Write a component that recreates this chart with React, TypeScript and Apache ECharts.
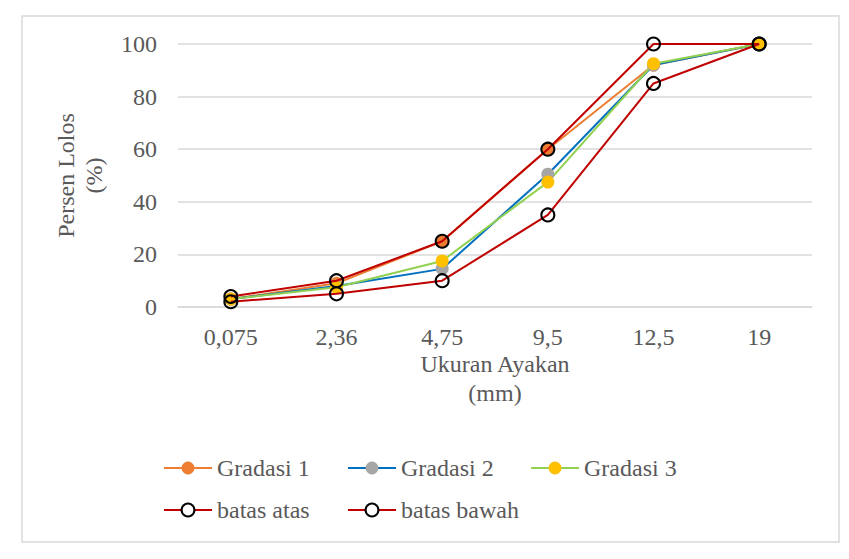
import React, { useEffect, useRef } from "react";
import * as echarts from "echarts";

const categories = ["0,075", "2,36", "4,75", "9,5", "12,5", "19"];
const gradasi1 = [3, 9, 25, 60, 92, 100];
const gradasi2 = [3, 8, 14.5, 50.5, 92, 100];
const gradasi3 = [3, 7.5, 17.5, 47.5, 92.5, 100];
const batasAtas = [4, 10, 25, 60, 100, 100];
const batasBawah = [2, 5, 10, 35, 85, 100];
const yTicks = { min: 0, max: 100, interval: 20 };

const FONT = "'Liberation Serif', 'Times New Roman', serif";
const TEXT = "#595959";

export default function App() {
  const ref = useRef<HTMLDivElement>(null);
  useEffect(() => {
    if (!ref.current) return;
    const chart = echarts.init(ref.current, undefined, { renderer: "svg" });
    const filled = (name: string, data: number[], line: string, marker: string) => ({
      name,
      type: "line",
      data,
      symbol: "circle",
      symbolSize: 13,
      lineStyle: { color: line, width: 2 },
      itemStyle: { color: marker, borderColor: marker, borderWidth: 0 },
      emphasis: { disabled: true },
      z: 2,
    });
    const hollow = (name: string, data: number[]) => ({
      name,
      type: "line",
      data,
      symbol: "circle",
      symbolSize: 13,
      lineStyle: { color: "#C00000", width: 2 },
      itemStyle: { color: "rgba(0,0,0,0)", borderColor: "#000000", borderWidth: 2 },
      emphasis: { disabled: true },
      z: 3,
    });
    const legendBase = {
      itemWidth: 48,
      itemHeight: 16,
      textStyle: { fontFamily: FONT, fontSize: 24, color: TEXT, lineHeight: 28 },
      padding: 0,
      selectedMode: false,
    };
    chart.setOption({
      animation: false,
      backgroundColor: "#ffffff",
      textStyle: { fontFamily: FONT },
      grid: { left: 178, right: 37, top: 44, bottom: 252, containLabel: false },
      xAxis: {
        type: "category",
        data: categories,
        boundaryGap: true,
        axisLine: { show: true, lineStyle: { color: "#d9d9d9", width: 1.5 } },
        axisTick: { show: false },
        axisLabel: { fontFamily: FONT, fontSize: 24, color: TEXT, margin: 18, lineHeight: 24 },
        name: "Ukuran Ayakan\n(mm)",
        nameLocation: "middle",
        nameGap: 39,
        nameTextStyle: { fontFamily: FONT, fontSize: 24, color: TEXT, lineHeight: 29 },
      },
      yAxis: {
        type: "value",
        min: yTicks.min,
        max: yTicks.max,
        interval: yTicks.interval,
        axisLine: { show: false },
        axisTick: { show: false },
        splitLine: { lineStyle: { color: "#d9d9d9", width: 1.5 } },
        axisLabel: { fontFamily: FONT, fontSize: 24, color: TEXT, margin: 21 },
        name: "Persen Lolos\n(%)",
        nameLocation: "middle",
        nameGap: 70,
        nameTextStyle: { fontFamily: FONT, fontSize: 24, color: TEXT, lineHeight: 28 },
      },
      legend: [
        { ...legendBase, left: 163, top: 454, data: ["Gradasi 1"] },
        { ...legendBase, left: 347, top: 454, data: ["Gradasi 2"] },
        { ...legendBase, left: 530, top: 454, data: ["Gradasi 3"] },
        { ...legendBase, left: 163, top: 496, data: [{ name: "batas atas", itemStyle: { color: "#ffffff" } }] },
        { ...legendBase, left: 347, top: 496, data: [{ name: "batas bawah", itemStyle: { color: "#ffffff" } }] },
      ],
      graphic: [
        {
          type: "rect",
          shape: { x: 22, y: 16, width: 817, height: 526 },
          style: { fill: "none", stroke: "#d9d9d9", lineWidth: 1.5 },
          silent: true,
          z: -10,
        },
      ],
      series: [
        filled("Gradasi 1", gradasi1, "#ED7D31", "#ED7D31"),
        filled("Gradasi 2", gradasi2, "#0070C0", "#A5A5A5"),
        filled("Gradasi 3", gradasi3, "#92D050", "#FFC000"),
        hollow("batas atas", batasAtas),
        hollow("batas bawah", batasBawah),
      ],
    });
    return () => chart.dispose();
  }, []);
  return (
    <div
      ref={ref}
      style={{ position: "fixed", left: 0, top: 0, width: 849, height: 559, background: "#fff" }}
    />
  );
}
